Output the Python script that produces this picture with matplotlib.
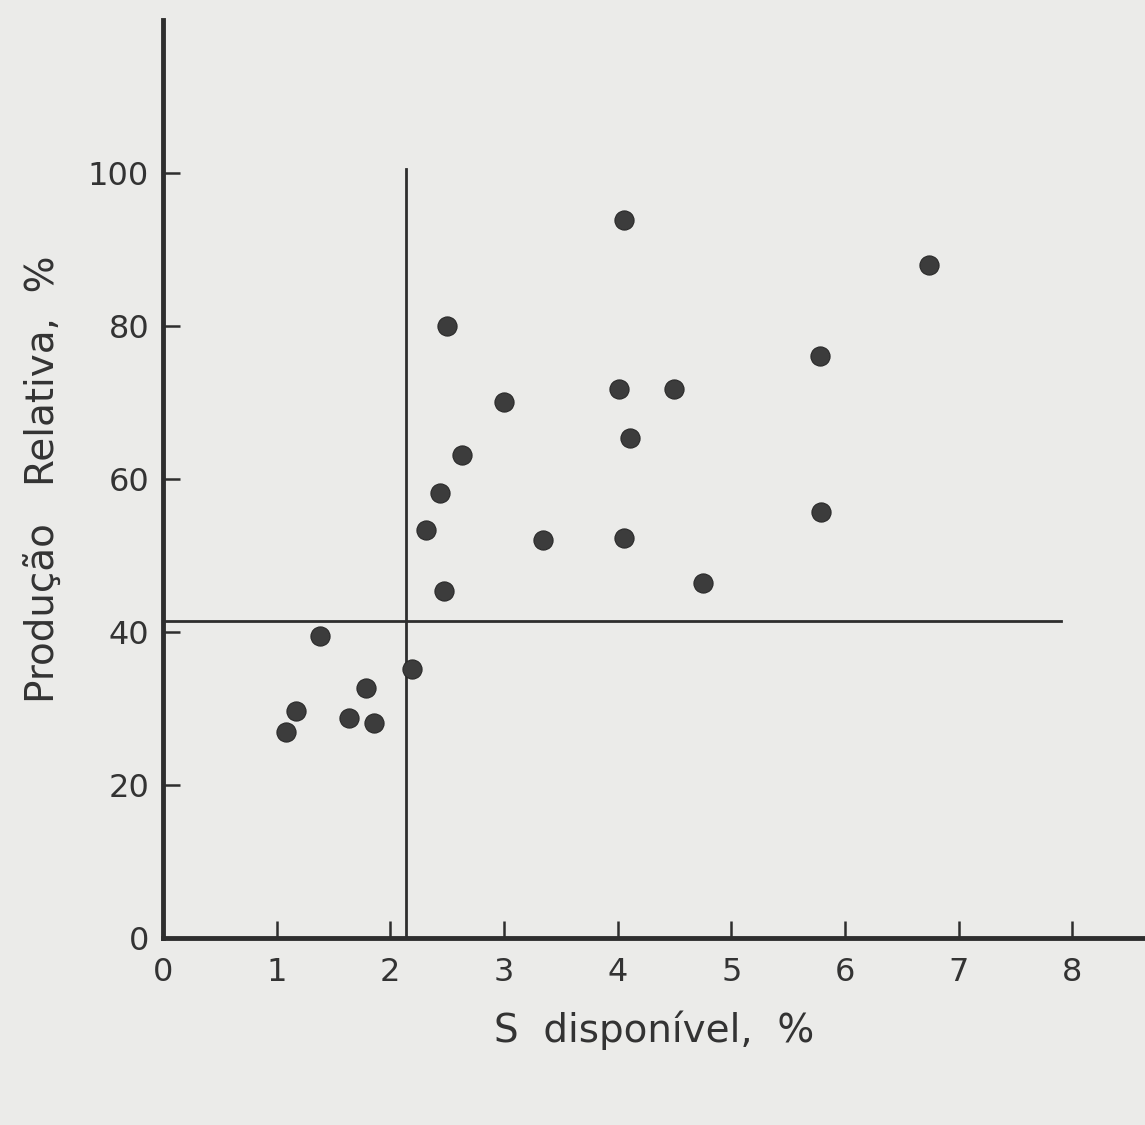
import numpy as np
from matplotlib import pyplot as plt

# points
s_disp = [1.08, 1.17, 1.38, 1.64, 1.79, 1.86, 2.19, 2.31, 2.44, 2.47, 2.50, 2.63,
          3.00, 3.34, 4.01, 4.06, 4.11, 4.06, 4.50, 4.75, 5.78, 5.79, 6.74]
prod_rel = [26.9, 29.7, 39.5, 28.8, 32.7, 28.1, 35.2, 53.3, 58.2, 45.4, 80.0, 63.1,
            70.1, 52.0, 71.8, 93.9, 65.4, 52.3, 71.8, 46.4, 76.1, 55.7, 88.0]

x_ticks = [0, 1, 2, 3, 4, 5, 6, 7, 8]
y_ticks = [0, 20, 40, 60, 80, 100]

# critical level lines
x_crit = 2.14
y_crit = 41.5

paper = '#ebebe9'
ink = '#2e2e2e'

fig = plt.figure(figsize=(11.45, 11.25), dpi=100, facecolor=paper)
ax = fig.add_axes([0.1424, 0.1662, 0.8576, 0.816])
ax.set_facecolor(paper)

ax.scatter(s_disp, prod_rel, s=190, c='#3c3c3c', edgecolors='#2a2a2a',
           linewidths=0.8, zorder=3)

ax.plot([x_crit, x_crit], [0, 100.5], color=ink, lw=2.0, zorder=2)
ax.plot([0, 7.9], [y_crit, y_crit], color=ink, lw=2.0, zorder=2)

ax.set_xlim(0, 8.64)
ax.set_ylim(0, 120)
ax.set_xticks(x_ticks)
ax.set_yticks(y_ticks)
ax.set_xticklabels([str(v) for v in x_ticks])
ax.set_yticklabels([str(v) for v in y_ticks])

for side in ['top', 'right']:
    ax.spines[side].set_visible(False)
for side in ['left', 'bottom']:
    ax.spines[side].set_linewidth(3.5)
    ax.spines[side].set_color(ink)

ax.tick_params(direction='in', length=12, width=1.8, color=ink,
               labelsize=23, labelcolor='#333333')
ax.tick_params(axis='x', pad=14)
ax.tick_params(axis='y', pad=10)

ax.set_xlabel('S  disponível,  %', fontsize=28, color='#333333', labelpad=16)
ax.set_ylabel('Produção   Relativa,  %', fontsize=28, color='#333333', labelpad=18)

plt.savefig('out.png', dpi=100, facecolor=paper)
